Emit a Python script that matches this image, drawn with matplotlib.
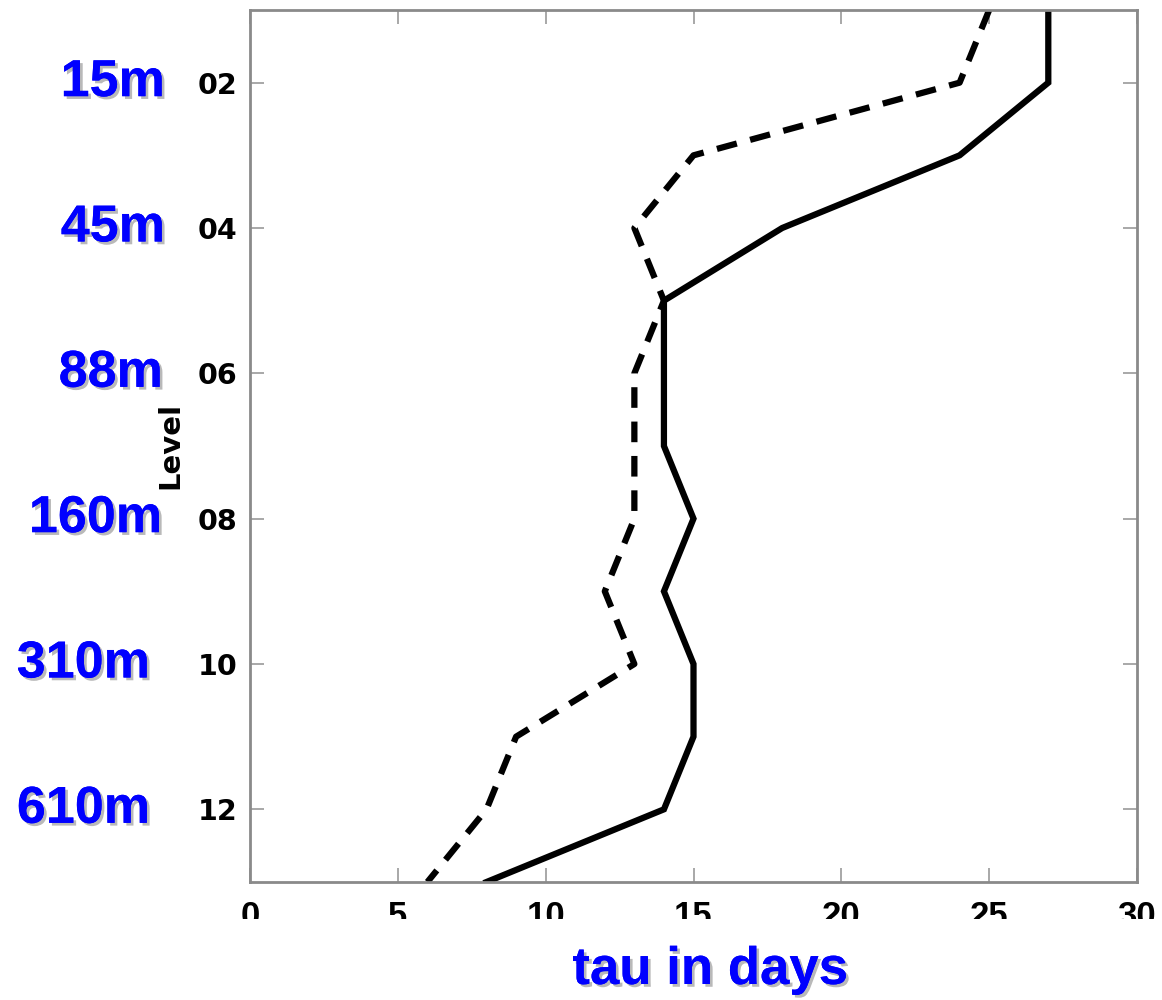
import numpy as np
import matplotlib
matplotlib.use("Agg")
import matplotlib.pyplot as plt
import matplotlib.transforms as mtransforms
import matplotlib.patheffects as pe
from matplotlib.patches import Rectangle

levels = [1, 2, 3, 4, 5, 6, 7, 8, 9, 10, 11, 12, 13]
tau_solid = [27, 27, 24, 18, 14, 14, 14, 15, 14, 15, 15, 14, 8]
tau_dashed = [25, 24, 15, 13, 14, 13, 13, 13, 12, 13, 9, 8, 6]

ytick_levels = [2, 4, 6, 8, 10, 12]
xtick_vals = [0, 5, 10, 15, 20, 25, 30]
depth_levels = [2, 4, 6, 8, 10, 12]
depth_labels = ["15m", "45m", "88m", "160m", "310m", "610m"]
depth_right_px = [165, 165, 163, 162, 150, 150]

W, H = 1162, 1000
fig = plt.figure(figsize=(W / 100, H / 100), dpi=100)
fig.patch.set_facecolor("white")
ax = fig.add_axes([250 / W, 1 - 882 / H, (1137 - 250) / W, (882 - 10) / H])

ax.plot(tau_solid, levels, color="black", lw=4.5, solid_joinstyle="miter")
ax.plot(tau_dashed, levels, color="black", lw=4.5, linestyle="--", dashes=(3.3, 2.2))

ax.set_xlim(0, 30)
ax.set_ylim(13, 1)
ax.set_xticks(xtick_vals)
ax.set_yticks(ytick_levels)
ax.set_yticklabels(["%02d" % v for v in ytick_levels])
ax.tick_params(direction="in", length=10, width=1.2, color="#999999",
               top=True, right=True, pad=9)
ax.tick_params(axis="x", pad=13)
for lab in ax.get_yticklabels():
    lab.set_fontweight("bold")
    lab.set_family("DejaVu Sans")
    lab.set_fontsize(20.5)
for lab in ax.get_xticklabels():
    lab.set_fontweight("bold")
    lab.set_family("Liberation Sans")
    lab.set_fontsize(25)
for s in ax.spines.values():
    s.set_color("#8a8a8a")
    s.set_linewidth(2)

fig.text(170 / W, 1 - 445 / H, "Level", rotation=90, ha="center", va="center",
         fontsize=21, fontweight="bold", family="DejaVu Sans")

# white strip that clips the bottom of the x tick labels
fig.add_artist(Rectangle((0, 0.0), 1, 1 - 919 / H, transform=fig.transFigure,
                         facecolor="white", edgecolor="none", zorder=5))

shadow = [pe.withSimplePatchShadow(offset=(2, -2), shadow_rgbFace="gray", alpha=0.55),
          pe.Normal()]

trans = mtransforms.blended_transform_factory(fig.transFigure, ax.transData)
for lev, lab, xr in zip(depth_levels, depth_labels, depth_right_px):
    fig.text(xr / W, lev, lab, transform=trans, ha="right", va="center",
             fontsize=37.5, fontweight="bold", color="blue",
             family="Liberation Sans", path_effects=shadow)

fig.text(710 / W, 1 - 970 / H, "tau in days", ha="center", va="center",
         fontsize=38, fontweight="bold", color="blue", family="Liberation Sans",
         path_effects=shadow, zorder=6)

fig.savefig("out.png", dpi=100)
